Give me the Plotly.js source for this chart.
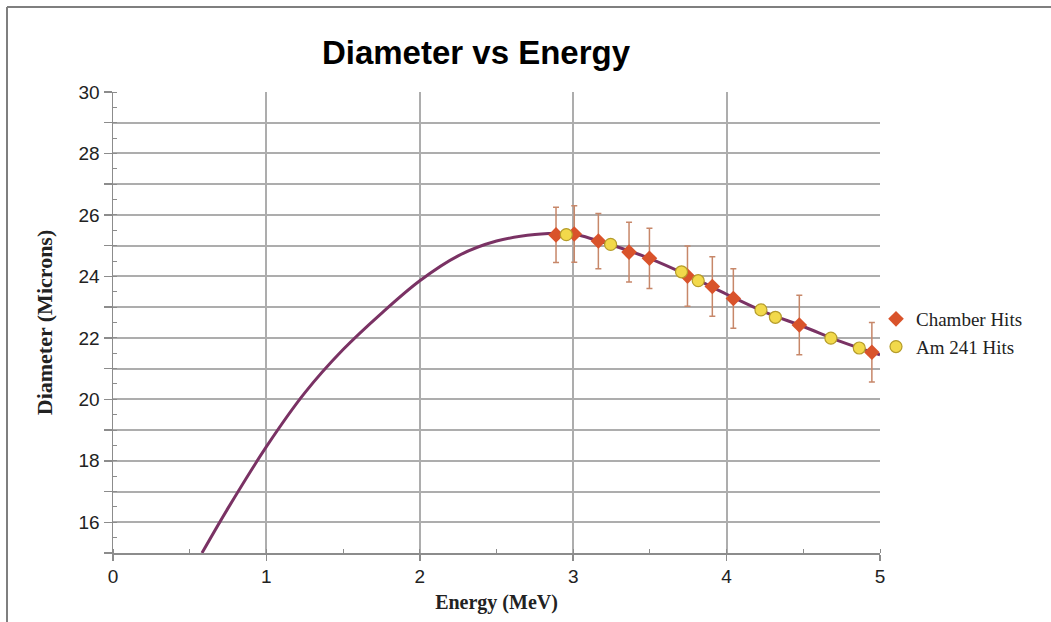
<!DOCTYPE html>
<html>
<head>
<meta charset="utf-8">
<script src="https://cdn.plot.ly/plotly-3.0.1.min.js"></script>
<style>html,body{margin:0;padding:0;background:#fff;}#chart{width:1051px;height:622px;}</style>
</head>
<body>
<div id="chart"></div>
<script>
// Fitted curve
const curveX = [0.58, 0.75, 1.00, 1.25, 1.50, 1.75, 2.00, 2.25, 2.50, 2.75, 2.95, 3.00, 3.25, 3.50, 3.75, 4.00, 4.25, 4.50, 4.75, 5.00];
const curveY = [15.0, 16.46, 18.46, 20.21, 21.62, 22.80, 23.86, 24.67, 25.15, 25.36, 25.40, 25.39, 25.02, 24.58, 24.03, 23.42, 22.84, 22.37, 21.87, 21.45];

// Chamber Hits
const chamberX = [2.888, 3.007, 3.164, 3.364, 3.497, 3.745, 3.907, 4.044, 4.474, 4.947];
const chamberY = [25.35, 25.38, 25.15, 24.79, 24.59, 24.01, 23.67, 23.28, 22.42, 21.53];
const chamberErr = [0.90, 0.92, 0.90, 0.97, 0.98, 0.98, 0.97, 0.97, 0.97, 0.97];

// Am 241 Hits
const amX = [2.955, 3.244, 3.706, 3.815, 4.224, 4.318, 4.680, 4.865];
const amY = [25.36, 25.04, 24.15, 23.86, 22.91, 22.67, 21.99, 21.67];

const xTickVals = [0, 1, 2, 3, 4, 5];
const yTickVals = [15,16,17,18,19,20,21,22,23,24,25,26,27,28,29,30];
const yTickText = ['', '16', '', '18', '', '20', '', '22', '', '24', '', '26', '', '28', '', '30'];

const L = 113, R = 880, T = 92, B = 553, W = 1051, H = 622;
const px2x = p => (p - L) / (R - L);
const px2y = p => (B - p) / (B - T);

const traces = [
  {
    x: curveX, y: curveY, type: 'scatter', mode: 'lines',
    line: {color: '#7a3264', width: 3, shape: 'spline', smoothing: 1.0},
    showlegend: false, hoverinfo: 'skip'
  },
  {
    x: chamberX, y: chamberY, type: 'scatter', mode: 'markers', name: 'Chamber Hits',
    marker: {symbol: 'diamond', size: 12, color: '#d9532b', line: {width: 0}},
    error_y: {type: 'data', array: chamberErr, visible: true, color: '#c78769', thickness: 1.5, width: 3}
  },
  {
    x: amX, y: amY, type: 'scatter', mode: 'markers', name: 'Am 241 Hits',
    marker: {symbol: 'circle', size: 12, color: '#f2d94b', line: {width: 1.2, color: '#b59c2a'}}
  }
];

const layout = {
  width: W, height: H,
  margin: {l: L, r: W - R, t: T, b: H - B},
  paper_bgcolor: '#ffffff', plot_bgcolor: '#ffffff',
  title: {
    text: '<b>Diameter vs Energy</b>',
    font: {family: 'Liberation Sans, Arial, sans-serif', size: 33, color: '#000'},
    x: 476 / W, xref: 'container', xanchor: 'center',
    y: 1 - 52 / H, yref: 'container', yanchor: 'middle'
  },
  xaxis: {
    range: [0, 5], tickmode: 'array', tickvals: xTickVals,
    showgrid: true, gridcolor: '#adadad', gridwidth: 2,
    showline: true, linecolor: '#8c8c8c', linewidth: 1.5,
    ticks: 'outside', ticklen: 6, tickcolor: '#8c8c8c', tickwidth: 1.5,
    minor: {dtick: 0.5, ticks: 'inside', ticklen: 4, tickcolor: '#8c8c8c', tickwidth: 1, showgrid: false},
    tickfont: {family: 'Liberation Sans, Arial, sans-serif', size: 19, color: '#222'},
    zeroline: false,
    title: {text: '<b>Energy (MeV)</b>', font: {family: 'Liberation Serif, Times New Roman, serif', size: 20, color: '#222'}, standoff: 8}
  },
  yaxis: {
    range: [15, 30], tickmode: 'array', tickvals: yTickVals, ticktext: yTickText,
    showgrid: true, gridcolor: '#adadad', gridwidth: 2,
    showline: true, linecolor: '#8c8c8c', linewidth: 1.5,
    ticks: 'outside', ticklen: 8, tickcolor: '#8c8c8c', tickwidth: 1.5,
    minor: {dtick: 0.5, ticks: 'inside', ticklen: 4, tickcolor: '#8c8c8c', tickwidth: 1, showgrid: false},
    tickfont: {family: 'Liberation Sans, Arial, sans-serif', size: 19, color: '#222'},
    zeroline: false,
    title: {text: '<b>Diameter (Microns)</b>', font: {family: 'Liberation Serif, Times New Roman, serif', size: 22, color: '#222'}, standoff: 20}
  },
  legend: {
    x: px2x(876), y: px2y(333), xanchor: 'left', yanchor: 'middle',
    bgcolor: 'rgba(0,0,0,0)', borderwidth: 0,
    font: {family: 'Liberation Serif, Times New Roman, serif', size: 19, color: '#222'},
    itemwidth: 30, tracegroupgap: 0
  },
  shapes: [
    {type: 'line', xref: 'paper', yref: 'paper', x0: px2x(7), x1: px2x(7), y0: px2y(7), y1: px2y(H), line: {color: '#7f7f7f', width: 2}},
    {type: 'line', xref: 'paper', yref: 'paper', x0: px2x(7), x1: px2x(W), y0: px2y(7), y1: px2y(7), line: {color: '#7f7f7f', width: 2}}
  ],
  showlegend: true
};

Plotly.newPlot('chart', traces, layout, {staticPlot: true, displayModeBar: false});
</script>
</body>
</html>
